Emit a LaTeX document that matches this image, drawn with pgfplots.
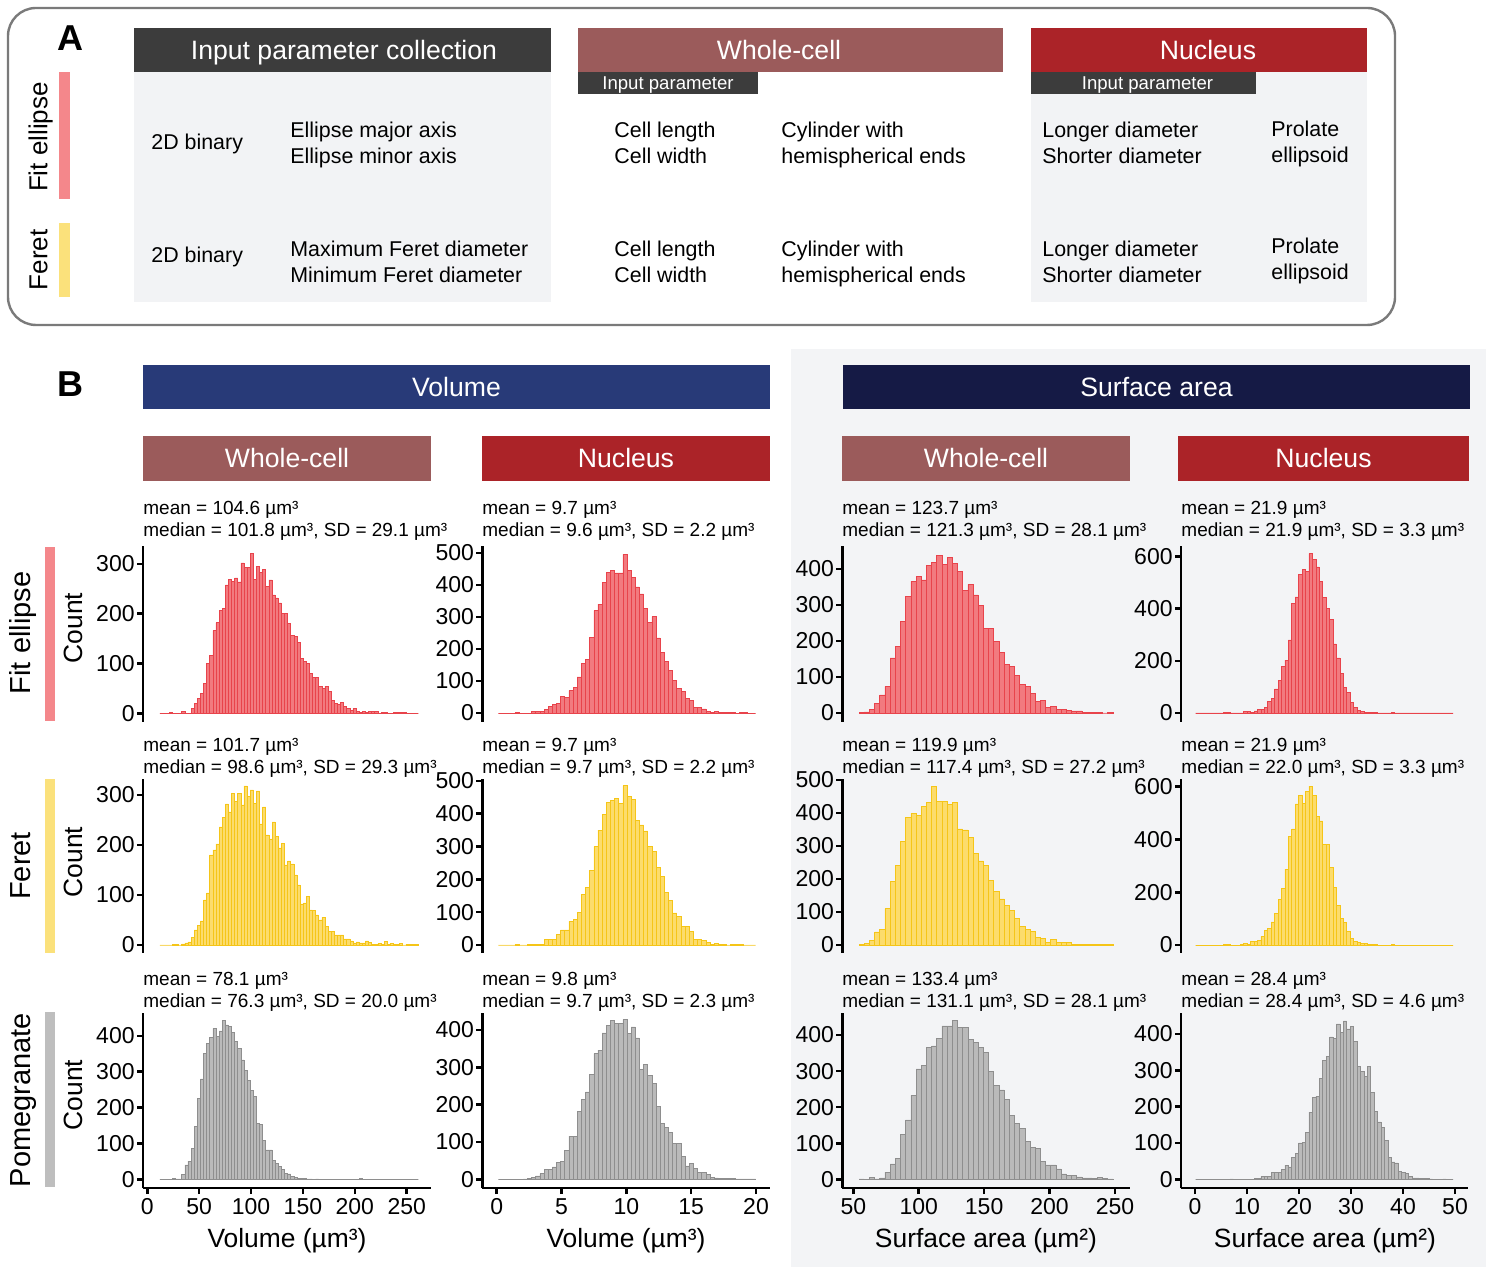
\documentclass[border=0pt]{standalone}
\usepackage{pgfplots}
\pgfplotsset{compat=1.18}
\usepackage{pgfplotstable}
\usepackage{fontspec}
\setmainfont{Liberation Sans}

\definecolor{hdrgray}{HTML}{3C3C3C}
\definecolor{wholecell}{HTML}{9B5B5B}
\definecolor{nucleus}{HTML}{AB2328}
\definecolor{volnavy}{HTML}{283A78}
\definecolor{sanavy}{HTML}{151A45}
\definecolor{panelgray}{HTML}{F2F3F5}
\definecolor{bgray}{HTML}{F3F4F6}
\definecolor{boxgray}{HTML}{7A7A7A}
\definecolor{fitfill}{HTML}{F27A7F}
\definecolor{fitedge}{HTML}{E8434B}
\definecolor{ferfill}{HTML}{FCDC6C}
\definecolor{feredge}{HTML}{F5C518}
\definecolor{pomfill}{HTML}{BABABA}
\definecolor{pomedge}{HTML}{8E8E8E}
\definecolor{fitbar}{HTML}{F4878B}
\definecolor{ferbar}{HTML}{FBE17B}
\definecolor{pombar}{HTML}{BEBEBE}

\newcommand\hdrfont{\fontsize{13.3}{15}\selectfont}
\newcommand\bodyfont{\fontsize{10.7}{12}\selectfont}
\newcommand\barfont{\fontsize{9.3}{10}\selectfont}
\newcommand\statfont{\fontsize{9.5}{11}\selectfont}
\newcommand\rowfont{\fontsize{14.5}{16}\selectfont}
\newcommand\rowAfont{\fontsize{13}{15}\selectfont}
\newcommand\labfont{\fontsize{13.2}{15}\selectfont}
\newcommand\tickfont{\fontsize{11.5}{12}\selectfont}
\newcommand\panelfont{\fontsize{18}{20}\selectfont\bfseries}

% Histogram counts: left bin edges, one count column per segmentation
% method; the last row only closes the final bin.
% Whole-cell volume (um^3)
\pgfplotstableread{
edge fit feret pome
12.2 0 0 0
15.2 0 0 0
18.2 0 0 0
21.2 2 0 0
24.2 0 1 3
27.2 0 1 1
30.2 0 0 1
33.2 5 2 14
36.2 1 4 40
39.2 1 6 51
42.2 10 15 86
45.2 20 30 148
48.2 30 39 226
51.2 40 48 280
54.2 60 90 352
57.2 100 104 380
60.2 117 180 395
63.2 166 190 421
66.2 182 202 398
69.2 207 236 414
72.2 211 255 444
75.2 258 282 431
78.2 269 266 426
81.2 265 303 410
84.2 272 287 385
87.2 264 303 365
90.2 302 280 333
93.2 293 318 303
96.2 293 297 277
99.2 321 310 249
102.2 269 283 232
105.2 295 308 156
108.2 283 242 154
111.2 289 276 108
114.2 255 220 82
117.2 268 212 82
120.2 238 246 52
123.2 232 217 45
126.2 222 194 35
129.2 200 203 28
132.2 200 160 17
135.2 181 168 15
138.2 156 162 7
141.2 154 140 6
144.2 142 120 2
147.2 111 82 2
150.2 104 84 2
153.2 100 97 1
156.2 80 70 1
159.2 73 69 0
162.2 73 60 1
165.2 55 50 0
168.2 50 55 0
171.2 55 37 0
174.2 45 27 0
177.2 27 27 0
180.2 21 20 0
183.2 18 20 0
186.2 22 20 0
189.2 14 12 0
192.2 11 12 0
195.2 7 8 0
198.2 10 4 0
201.2 4 6 0
204.2 3 4 2
207.2 4 4 0
210.2 2 8 0
213.2 4 5 0
216.2 4 1 0
219.2 4 1 0
222.2 1 3 0
225.2 2 1 0
228.2 2 7 0
231.2 0 1 0
234.2 1 3 0
237.2 2 1 0
240.2 2 1 0
243.2 2 3 0
246.2 2 0 0
249.2 0 1 0
252.2 0 1 0
255.2 0 1 0
258.2 0 1 0
261.2 0 0 0
}\volcell

% Nucleus volume (um^3)
\pgfplotstableread{
edge fit feret pome
0.13 0 0 0
0.45 0 0 0
0.77 0 0 0
1.09 0 0 0
1.41 1 1 0
1.73 0 0 0
2.05 0 0 1
2.37 0 1 3
2.69 4 1 6
3.01 4 3 9
3.33 4 3 15
3.65 12 17 26
3.97 20 17 26
4.29 28 18 33
4.61 30 32 45
4.93 52 46 47
5.25 49 46 77
5.57 70 72 116
5.89 81 79 116
6.21 113 100 181
6.53 155 155 215
6.85 168 175 234
7.17 236 228 282
7.49 320 300 337
7.81 340 350 346
8.13 408 398 392
8.45 440 435 413
8.77 445 440 425
9.09 438 446 417
9.41 438 432 417
9.73 496 486 428
10.05 445 453 390
10.37 424 443 408
10.69 394 380 379
11.01 372 366 295
11.33 327 348 308
11.65 284 300 278
11.97 301 285 256
12.29 235 237 196
12.61 189 208 150
12.93 161 161 140
13.25 134 136 126
13.57 101 98 96
13.89 77 88 96
14.21 68 57 62
14.53 46 57 36
14.85 40 42 42
15.17 17 18 30
15.49 17 18 19
15.81 13 14 19
16.13 6 8 13
16.45 2 2 6
16.77 5 5 4
17.09 3 2 3
17.41 2 2 2
17.73 1 0 3
18.05 2 2 2
18.37 0 2 1
18.69 2 2 1
19.01 2 0 1
19.33 0 0 1
19.65 0 0 1
19.97 0 0 0
}\volnuc

% Whole-cell surface area (um^2)
\pgfplotstableread{
edge fit feret pome
54.4 1 2 1
58.36 3 5 0
62.32 10 15 5
66.28 26 40 1
70.24 50 47 4
74.2 73 110 20
78.16 153 192 43
82.12 185 242 58
86.08 255 315 125
90.04 324 387 165
94 366 399 233
97.96 380 393 306
101.92 370 420 316
105.88 410 433 365
109.84 418 481 370
113.8 438 436 390
117.76 413 436 425
121.72 432 427 425
125.68 415 433 441
129.64 394 352 420
133.6 340 349 420
137.56 357 325 387
141.52 328 278 380
145.48 300 255 365
149.44 236 241 352
153.4 236 196 300
157.36 198 162 261
161.32 168 140 248
165.28 134 119 222
169.24 129 104 177
173.2 105 81 154
177.16 79 57 141
181.12 73 47 106
185.08 54 41 89
189.04 32 24 86
193 36 20 50
196.96 16 9 40
200.92 19 18 40
204.88 11 9 29
208.84 11 9 15
212.8 7 9 11
216.76 6 3 11
220.72 6 3 7
224.68 2 3 4
228.64 2 3 4
232.6 2 3 3
236.56 2 3 5
240.52 0 2 2
244.48 1 1 1
248.44 0 0 0
}\sacell

% Nucleus surface area (um^2)
\pgfplotstableread{
edge fit feret pome
0.13 0 0 0
0.79 0 0 0
1.45 0 0 0
2.11 0 0 0
2.77 0 0 0
3.43 0 0 0
4.09 0 0 0
4.75 0 0 0
5.41 2 2 0
6.07 2 2 0
6.73 0 0 1
7.39 0 0 0
8.05 0 0 0
8.71 0 2 0
9.37 5 5 0
10.03 5 2 0
10.69 2 13 0
11.35 8 13 3
12.01 13 19 2
12.67 14 33 7
13.33 20 55 9
13.99 45 62 9
14.65 57 88 19
15.31 92 120 18
15.97 125 172 20
16.63 180 214 28
17.29 203 288 39
17.95 280 412 34
18.61 420 440 60
19.27 445 535 72
19.93 530 566 100
20.59 550 536 102
21.25 543 581 130
21.91 611 602 185
22.57 590 568 225
23.23 560 488 229
23.89 505 470 278
24.55 443 380 328
25.21 400 380 338
25.87 360 293 392
26.53 265 217 389
27.19 211 150 428
27.85 153 102 404
28.51 97 85 436
29.17 80 51 414
29.83 41 24 420
30.49 22 15 379
31.15 10 9 312
31.81 6 5 298
32.47 3 5 283
33.13 1 2 312
33.79 1 2 240
34.45 1 2 187
35.11 0 0 158
35.77 0 0 142
36.43 0 0 107
37.09 0 0 61
37.75 2 2 48
38.41 0 0 45
39.07 0 0 22
39.73 0 0 18
40.39 0 0 16
41.05 0 0 8
41.71 0 0 4
42.37 0 0 4
43.03 0 0 2
43.69 0 0 2
44.35 0 0 2
45.01 0 0 1
45.67 0 0 0
46.33 0 0 0
46.99 0 0 0
47.65 0 0 1
48.31 0 0 0
48.97 0 0 0
49.63 0 0 0
}\sanuc

\pgfplotsset{
  hist/.style={
    scale only axis, anchor=south west,
    axis y line*=left,
    axis line style={line width=1.3pt, -},
    tick style={line width=1.3pt, black},
    tick align=outside, major tick length=3pt,
    ticklabel style={font=\tickfont},
    yticklabel style={inner xsep=1pt},
    xticklabel style={inner ysep=2pt},
    /pgf/number format/assume math mode=true,
  },
  upper/.style={hide x axis},
  lower/.style={axis x line*=bottom},
  colA/.style={width=144pt, xmin=-4.1, xmax=273.4, xtick={0,50,...,250}},
  colB/.style={width=143.85pt, xmin=-1.11, xmax=21.08, xtick={0,5,...,20}},
  colC/.style={width=143.85pt, xmin=41.6, xmax=261.5, xtick={50,100,...,250}},
  colD/.style={width=143.5pt, xmin=-2.69, xmax=52.5, xtick={0,10,...,50}},
  fitbars/.style={ybar interval, fill=fitfill, draw=fitedge, line width=0.3pt},
  ferbars/.style={ybar interval, fill=ferfill, draw=feredge, line width=0.3pt},
  pombars/.style={ybar interval, fill=pomfill, draw=pomedge, line width=0.3pt},
}

\begin{document}
\begin{tikzpicture}
\useasboundingbox (0,0) rectangle (745.5pt,633.5pt);

\begin{scope}[shift={(0pt,633.5pt)}, x=0.5pt, y=-0.5pt,
  txt/.style={anchor=base west, inner sep=0pt, font=\bodyfont},
  hdr/.style={anchor=base, inner sep=0pt, text=white, font=\hdrfont}]
% ---------------- panel A ----------------
\draw[line width=1.2pt, draw=boxgray, rounded corners=14pt] (8,8) rectangle (1395,325);
\node[anchor=base, inner sep=0pt, font=\panelfont] at (70,51) {A};

\fill[panelgray] (134,72) rectangle (551,302);
\fill[panelgray] (1031,72) rectangle (1367,302);
\fill[hdrgray] (134,28) rectangle (551,72);
\fill[wholecell] (578,28) rectangle (1003,72);
\fill[nucleus] (1031,28) rectangle (1367,72);
\fill[hdrgray] (578,72) rectangle (758,94);
\fill[hdrgray] (1031,72) rectangle (1256,94);
\node[hdr] at (344,59.5) {Input parameter collection};
\node[hdr] at (779,59.5) {Whole-cell};
\node[hdr] at (1208,59.5) {Nucleus};
\node[hdr, font=\barfont] at (668,89.6) {Input parameter};
\node[hdr, font=\barfont] at (1147.5,89.6) {Input parameter};

\fill[fitbar] (59,72) rectangle (70,199);
\fill[ferbar] (59,223) rectangle (70,297);
\node[rotate=90, anchor=base, inner sep=0pt, font=\rowAfont] at (47.3,137) {Fit ellipse};
\node[rotate=90, anchor=base, inner sep=0pt, font=\rowAfont] at (47.3,260) {Feret};

\node[txt] at (151,149.6) {2D binary};
\node[txt] at (290,137.6) {Ellipse major axis};
\node[txt] at (290,163.6) {Ellipse minor axis};
\node[txt] at (614,137.6) {Cell length};
\node[txt] at (614,163.6) {Cell width};
\node[txt] at (781,137.6) {Cylinder with};
\node[txt] at (781,163.6) {hemispherical ends};
\node[txt] at (1042,137.6) {Longer diameter};
\node[txt] at (1042,163.6) {Shorter diameter};
\node[txt] at (1271,136.6) {Prolate};
\node[txt] at (1271,162.6) {ellipsoid};

\node[txt] at (151,262.6) {2D binary};
\node[txt] at (290,256.6) {Maximum Feret diameter};
\node[txt] at (290,282.6) {Minimum Feret diameter};
\node[txt] at (614,256.6) {Cell length};
\node[txt] at (614,282.6) {Cell width};
\node[txt] at (781,256.6) {Cylinder with};
\node[txt] at (781,282.6) {hemispherical ends};
\node[txt] at (1042,256.6) {Longer diameter};
\node[txt] at (1042,282.6) {Shorter diameter};
\node[txt] at (1271,253.6) {Prolate};
\node[txt] at (1271,279.6) {ellipsoid};

% ---------------- panel B ----------------
\fill[bgray] (791,349) rectangle (1486,1267);
\node[anchor=base, inner sep=0pt, font=\panelfont] at (70,397) {B};
\fill[volnavy] (143,365) rectangle (770,409);
\fill[sanavy] (843,365) rectangle (1470,409);
\node[hdr] at (456.5,396.5) {Volume};
\node[hdr] at (1156.5,396.5) {Surface area};
\fill[wholecell] (143,436) rectangle (431,481);
\fill[nucleus] (482,436) rectangle (770,481);
\fill[wholecell] (842,436) rectangle (1130,481);
\fill[nucleus] (1178,436) rectangle (1469,481);
\node[hdr] at (287,468) {Whole-cell};
\node[hdr] at (626,468) {Nucleus};
\node[hdr] at (986,468) {Whole-cell};
\node[hdr] at (1323.5,468) {Nucleus};

\fill[fitbar] (45,547) rectangle (55,721);
\fill[ferbar] (45,779) rectangle (55,953);
\fill[pombar] (45,1012) rectangle (55,1187);
\node[rotate=90, anchor=base, inner sep=0pt, font=\rowfont] at (30.4,633) {Fit ellipse};
\node[rotate=90, anchor=base, inner sep=0pt, font=\rowfont] at (30.4,866) {Feret};
\node[rotate=90, anchor=base, inner sep=0pt, font=\rowfont] at (30.4,1100) {Pomegranate};
\node[rotate=90, anchor=base, inner sep=0pt, font=\labfont] at (82.3,628) {Count};
\node[rotate=90, anchor=base, inner sep=0pt, font=\labfont] at (82.3,862) {Count};
\node[rotate=90, anchor=base, inner sep=0pt, font=\labfont] at (82.3,1095) {Count};

\begin{scope}[txt/.append style={font=\statfont}]
% row 1
\node[txt] at (143,515) {mean = 104.6 µm³};
\node[txt] at (143,537) {median = 101.8 µm³, SD = 29.1 µm³};
\node[txt] at (482,515) {mean = 9.7 µm³};
\node[txt] at (482,537) {median = 9.6 µm³, SD = 2.2 µm³};
\node[txt] at (842,515) {mean = 123.7 µm³};
\node[txt] at (842,537) {median = 121.3 µm³, SD = 28.1 µm³};
\node[txt] at (1181,515) {mean = 21.9 µm³};
\node[txt] at (1181,537) {median = 21.9 µm³, SD = 3.3 µm³};
% row 2
\node[txt] at (143,752) {mean = 101.7 µm³};
\node[txt] at (143,774) {median = 98.6 µm³, SD = 29.3 µm³};
\node[txt] at (482,752) {mean = 9.7 µm³};
\node[txt] at (482,774) {median = 9.7 µm³, SD = 2.2 µm³};
\node[txt] at (842,752) {mean = 119.9 µm³};
\node[txt] at (842,774) {median = 117.4 µm³, SD = 27.2 µm³};
\node[txt] at (1181,752) {mean = 21.9 µm³};
\node[txt] at (1181,774) {median = 22.0 µm³, SD = 3.3 µm³};
% row 3
\node[txt] at (143,986) {mean = 78.1 µm³};
\node[txt] at (143,1008) {median = 76.3 µm³, SD = 20.0 µm³};
\node[txt] at (482,986) {mean = 9.8 µm³};
\node[txt] at (482,1008) {median = 9.7 µm³, SD = 2.3 µm³};
\node[txt] at (842,986) {mean = 133.4 µm³};
\node[txt] at (842,1008) {median = 131.1 µm³, SD = 28.1 µm³};
\node[txt] at (1181,986) {mean = 28.4 µm³};
\node[txt] at (1181,1008) {median = 28.4 µm³, SD = 4.6 µm³};
\end{scope}

\node[anchor=base, inner sep=0pt, font=\labfont] at (287,1247.5) {Volume (µm³)};
\node[anchor=base, inner sep=0pt, font=\labfont] at (626,1247.5) {Volume (µm³)};
\node[anchor=base, inner sep=0pt, font=\labfont] at (986,1247.5) {Surface area (µm²)};
\node[anchor=base, inner sep=0pt, font=\labfont] at (1325,1247.5) {Surface area (µm²)};
\end{scope}

% ---------------- histograms: row 1, fit ellipse ----------------
\begin{axis}[hist, upper, colA, at={(71.5pt,272.5pt)}, height=88pt,
  ymin=-17, ymax=336, ytick={0,100,200,300}]
\addplot[fitbars] table[x=edge, y=fit] {\volcell};
\end{axis}
\begin{axis}[hist, upper, colB, at={(241.15pt,272.5pt)}, height=88pt,
  ymin=-28, ymax=522, ytick={0,100,...,500}]
\addplot[fitbars] table[x=edge, y=fit] {\volnuc};
\end{axis}
\begin{axis}[hist, upper, colC, at={(421.15pt,272.5pt)}, height=88pt,
  ymin=-25, ymax=464, ytick={0,100,...,400}]
\addplot[fitbars] table[x=edge, y=fit] {\sacell};
\end{axis}
\begin{axis}[hist, upper, colD, at={(590.5pt,272.5pt)}, height=88pt,
  ymin=-34.5, ymax=640, ytick={0,200,400,600}]
\addplot[fitbars] table[x=edge, y=fit] {\sanuc};
\end{axis}

% ---------------- row 2, Feret ----------------
\begin{axis}[hist, upper, colA, at={(71.5pt,157pt)}, height=87pt,
  ymin=-16, ymax=332, ytick={0,100,200,300}]
\addplot[ferbars] table[x=edge, y=feret] {\volcell};
\end{axis}
\begin{axis}[hist, upper, colB, at={(241.15pt,157pt)}, height=87pt,
  ymin=-24.4, ymax=506, ytick={0,100,...,500}]
\addplot[ferbars] table[x=edge, y=feret] {\volnuc};
\end{axis}
\begin{axis}[hist, upper, colC, at={(421.15pt,157pt)}, height=87pt,
  ymin=-24, ymax=503, ytick={0,100,...,500}]
\addplot[ferbars] table[x=edge, y=feret] {\sacell};
\end{axis}
\begin{axis}[hist, upper, colD, at={(590.5pt,157pt)}, height=87pt,
  ymin=-30, ymax=629, ytick={0,200,400,600}]
\addplot[ferbars] table[x=edge, y=feret] {\sanuc};
\end{axis}

% ---------------- row 3, Pomegranate ----------------
\begin{axis}[hist, lower, colA, at={(71.5pt,39.5pt)}, height=87.5pt,
  ymin=-24.3, ymax=464, ytick={0,100,...,400}]
\addplot[pombars] table[x=edge, y=pome] {\volcell};
\end{axis}
\begin{axis}[hist, lower, colB, at={(241.15pt,39.5pt)}, height=87.5pt,
  ymin=-23.3, ymax=445.5, ytick={0,100,...,400}]
\addplot[pombars] table[x=edge, y=pome] {\volnuc};
\end{axis}
\begin{axis}[hist, lower, colC, at={(421.15pt,39.5pt)}, height=87.5pt,
  ymin=-24, ymax=461, ytick={0,100,...,400}]
\addplot[pombars] table[x=edge, y=pome] {\sacell};
\end{axis}
\begin{axis}[hist, lower, colD, at={(590.5pt,39.5pt)}, height=87.5pt,
  ymin=-24, ymax=458, ytick={0,100,...,400}]
\addplot[pombars] table[x=edge, y=pome] {\sanuc};
\end{axis}
\end{tikzpicture}
\end{document}
